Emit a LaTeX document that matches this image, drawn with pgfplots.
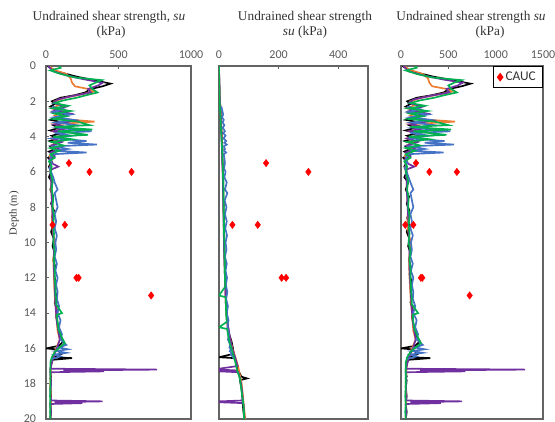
\documentclass[border=0pt]{standalone}
\usepackage{fontspec}
\setmainfont{Liberation Serif}
\newfontfamily\calibri{Carlito}
\usepackage{pgfplots}
\usepackage{pgfplotstable}
\pgfplotsset{compat=1.18}

\definecolor{cK}{RGB}{0,0,0}
\definecolor{cO}{RGB}{237,125,49}
\definecolor{cP}{RGB}{112,48,160}
\definecolor{cB}{RGB}{68,114,196}
\definecolor{cG}{RGB}{0,176,80}
\definecolor{frame}{RGB}{100,100,100}
\definecolor{lbl}{RGB}{89,89,89}

% columns: depth, su panel 1, panel 2, panel 3
\pgfplotstableread{
d a b c
0.0 10 0 15
0.3 70 0 110
0.6 210 1 340
0.8 330 1 540
1.0 445 1 735
1.15 390 2 640
1.3 310 2 510
1.5 270 2 450
1.65 200 2 330
1.8 100 3 165
2.0 40 3 65
2.15 60 4 100
2.3 30 5 50
2.45 110 4 180
2.6 50 6 80
2.75 150 5 250
2.9 70 7 115
3.05 30 6 50
3.2 120 8 200
3.35 50 7 85
3.5 90 9 150
3.65 30 8 50
3.8 110 10 180
3.95 40 9 65
4.1 80 10 130
4.25 25 9 40
4.4 70 11 115
4.55 30 10 50
4.7 60 12 100
4.85 20 11 35
5.0 50 12 80
5.2 15 11 25
5.4 40 12 65
5.7 20 13 35
6.0 35 13 60
6.3 20 14 35
6.6 45 14 75
7.0 30 15 50
7.4 50 14 85
7.8 35 16 60
8.2 55 15 90
8.6 40 17 65
9.0 50 16 85
9.4 35 17 60
9.8 55 18 90
10.2 45 18 75
10.6 60 19 100
11.0 50 19 85
11.4 65 20 105
11.8 55 21 90
12.2 65 22 110
12.6 60 22 100
13.0 70 23 115
13.4 60 24 100
13.8 75 25 125
14.2 70 27 115
14.6 80 29 130
15.0 85 32 140
15.3 100 36 165
15.6 120 42 200
15.85 90 45 150
16.0 0 47 0
16.05 70 47 115
16.3 110 50 180
16.5 60 0 100
16.55 180 52 310
16.65 40 56 70
16.9 35 60 60
17.3 30 66 50
17.6 35 75 60
17.7 30 94 50
17.8 35 70 60
18.2 30 75 50
18.7 35 78 60
19.2 30 80 50
19.6 35 82 60
20.0 30 85 50
}\tK

\pgfplotstableread{
d a b c
0.0 20 0 30
0.2 50 0 85
0.45 140 0 230
0.7 170 1 285
0.95 180 1 300
1.15 200 1 330
1.3 290 2 480
1.45 330 2 540
1.6 250 2 410
1.8 130 3 215
2.0 60 3 100
2.2 90 4 150
2.4 40 4 65
2.6 130 5 215
2.8 60 6 100
3.0 100 6 165
3.15 335 7 570
3.3 60 7 100
3.5 150 8 250
3.7 50 8 85
3.9 120 9 200
4.1 40 9 65
4.3 90 10 150
4.5 35 10 60
4.8 70 11 115
5.1 25 11 40
5.4 40 12 65
5.8 25 12 40
6.2 40 13 65
7.0 35 14 60
8.0 45 15 75
9.0 40 16 65
10.0 60 17 100
11.0 50 18 85
12.0 55 20 90
13.0 60 22 100
14.0 70 24 115
15.0 80 30 130
15.5 95 38 155
16.0 70 45 115
16.5 45 55 75
17.0 35 64 60
18.0 30 76 50
19.0 35 82 55
20.0 30 88 50
}\tO

\pgfplotstableread{
d a b c
0.0 15 0 25
0.3 50 0 80
0.55 150 0 250
0.75 260 1 430
0.95 390 1 650
1.1 360 1 600
1.3 290 2 480
1.5 310 2 510
1.7 180 2 300
1.9 80 3 130
2.1 50 3 85
2.3 140 4 230
2.5 60 4 100
2.7 170 5 280
2.9 70 5 115
3.1 200 6 330
3.3 60 6 100
3.5 160 7 265
3.7 50 7 85
3.9 130 8 215
4.1 40 8 65
4.3 110 9 180
4.5 40 9 65
4.7 90 10 150
4.9 30 10 50
5.1 60 11 100
5.3 25 11 40
5.55 50 11 80
5.7 85 12 140
5.85 40 12 65
6.0 30 12 50
6.5 35 13 60
7.5 40 14 65
8.5 45 15 75
9.5 50 16 85
10.5 55 17 90
11.5 55 19 90
12.5 60 21 100
13.5 65 23 110
14.5 75 28 125
15.5 95 38 155
16.0 75 44 125
16.5 50 54 85
17.0 35 62 60
17.15 30 0 50
17.2 767 0 1310
17.25 120 62 200
17.3 400 0 680
17.35 30 65 50
18.0 35 74 55
18.5 30 78 50
18.95 35 80 55
19.0 390 0 645
19.05 60 0 100
19.1 250 81 420
19.15 30 82 50
19.6 35 84 55
20.0 30 86 50
}\tP

\pgfplotstableread{
d a b c
2.3 40 8 65
2.45 120 10 200
2.6 50 12 80
2.75 170 14 280
2.9 60 10 100
3.05 190 16 310
3.2 70 12 115
3.35 210 18 350
3.5 80 13 130
3.7 315 20 520
3.8 60 14 100
3.95 180 22 300
4.1 50 15 80
4.25 280 24 460
4.35 150 18 250
4.45 350 26 560
4.55 60 16 100
4.7 150 20 250
4.8 60 17 100
4.9 280 24 450
5.0 40 16 65
5.2 30 18 50
5.5 40 20 65
5.8 25 17 40
6.0 35 22 60
6.3 50 18 80
6.6 60 26 100
7.0 80 20 130
7.2 60 28 100
7.6 70 19 115
8.0 80 25 130
8.4 60 20 100
8.8 70 26 115
9.2 60 21 100
9.6 75 27 125
10.0 65 22 105
10.4 70 25 115
10.8 60 20 100
11.2 75 26 125
11.6 65 22 105
12.0 80 27 130
12.4 70 23 115
12.8 80 28 130
13.2 75 24 125
13.6 90 30 150
14.0 80 26 130
14.4 100 32 165
14.8 90 28 150
15.2 110 34 180
15.5 100 30 165
15.8 140 38 230
15.95 90 35 150
16.05 150 40 250
16.15 70 36 115
16.25 140 42 230
16.35 60 40 100
16.45 100 45 165
16.6 40 50 65
}\tB

\pgfplotstableread{
d a b c
0.0 90 0 150
0.1 100 0 165
0.25 30 0 50
0.45 100 0 165
0.65 200 0 330
0.8 385 1 640
0.95 340 1 560
1.1 300 1 500
1.3 320 1 530
1.5 355 2 590
1.65 280 2 460
1.8 210 2 350
1.95 120 2 200
2.1 60 3 100
2.25 150 3 250
2.4 50 3 80
2.55 170 4 280
2.7 60 4 100
2.85 140 5 230
3.0 50 5 80
3.15 220 6 360
3.35 300 6 500
3.45 60 6 100
3.6 320 7 530
3.7 80 7 130
3.9 290 8 480
4.0 50 8 80
4.15 180 9 300
4.3 40 9 65
4.5 120 10 200
4.65 30 10 50
4.8 90 11 150
5.0 30 11 50
5.2 60 12 100
5.4 20 12 35
5.7 40 13 65
6.0 30 13 50
6.5 45 14 75
7.0 40 15 65
7.5 50 15 80
8.0 45 16 75
8.5 55 16 90
9.0 50 17 80
9.5 55 17 90
10.0 50 18 80
10.5 60 18 100
11.0 55 19 90
11.5 60 19 100
12.0 60 20 100
12.5 65 21 105
13.0 65 0 110
13.1 70 22 115
13.5 70 23 115
14.0 110 24 180
14.1 75 24 125
14.5 80 26 130
14.8 85 0 140
14.9 85 27 140
15.0 90 28 150
15.4 110 32 180
15.7 130 36 210
15.9 100 40 165
16.2 60 45 100
16.5 40 50 65
16.8 30 55 50
17.2 30 60 50
17.7 30 70 50
18.2 30 74 50
18.7 28 78 45
19.2 30 82 50
19.6 28 84 45
20.0 30 84 50
}\tG

\pgfplotstableread{
d s
5.5 158
6.0 300
6.0 590
9.0 45
9.0 130
12.0 210
12.0 225
13.0 725
}\tCAUC

\pgfplotsset{
  panel/.style={
    scale only axis, height=264.75pt, anchor=north west,
    ymin=0, ymax=20, y dir=reverse, xmin=0,
    axis line style={frame, line width=1.1pt},
    tick align=inside, major tick length=2.5pt,
    tick style={frame, line width=0.8pt},
    xtick pos=upper, xticklabel pos=upper,
    ticklabel style={font=\calibri\fontsize{9}{10}\selectfont, text=lbl},
    /pgf/number format/assume math mode=true,
    /pgf/number format/1000 sep={},
    xticklabel style={yshift=2pt},
  },
  su/.style={line width=1.25pt, mark=none},
  cauc/.style={only marks, mark=diamond*, mark size=2.7pt, red, fill=red},
}

\begin{document}
\begin{tikzpicture}
\begin{axis}[panel, at={(34.5pt,-49.5pt)}, width=108.75pt, xmax=1000,
    xtick={0,500,1000}, ytick={0,2,...,20}, ytick pos=left, yticklabel pos=left,
    yticklabel style={xshift=-4pt}]
  \addplot[su, cK] table[x=a, y=d] {\tK};
  \addplot[su, cO] table[x=a, y=d] {\tO};
  \addplot[su, cP] table[x=a, y=d] {\tP};
  \addplot[su, cB] table[x=a, y=d] {\tB};
  \addplot[su, cG] table[x=a, y=d] {\tG};
  \addplot[cauc] table[x=s, y=d] {\tCAUC};
\end{axis}

\begin{axis}[panel, at={(164.25pt,-49.5pt)}, width=111.75pt, xmax=500,
    xtick={0,200,400}, ytick=\empty]
  \addplot[su, cK] table[x=b, y=d] {\tK};
  \addplot[su, cO] table[x=b, y=d] {\tO};
  \addplot[su, cP] table[x=b, y=d] {\tP};
  \addplot[su, cB] table[x=b, y=d] {\tB};
  \addplot[su, cG] table[x=b, y=d] {\tG};
  \addplot[cauc] table[x=s, y=d] {\tCAUC};
\end{axis}

\begin{axis}[panel, at={(300.75pt,-49.5pt)}, width=106.5pt, xmax=1500,
    xtick={0,500,1000,1500}, ytick=\empty,
    legend style={at={(1,1)}, anchor=north east, draw=black, line width=0.8pt,
      font=\calibri\fontsize{10}{12}\selectfont, text=black!80,
      inner xsep=3pt, inner ysep=2pt, cells={anchor=west}}]
  \addplot[su, cK, forget plot] table[x=c, y=d] {\tK};
  \addplot[su, cO, forget plot] table[x=c, y=d] {\tO};
  \addplot[su, cP, forget plot] table[x=c, y=d] {\tP};
  \addplot[su, cB, forget plot] table[x=c, y=d] {\tB};
  \addplot[su, cG, forget plot] table[x=c, y=d] {\tG};
  \addplot[cauc] table[x=s, y=d] {\tCAUC};
  \addlegendentry{CAUC}
\end{axis}

\begin{scope}[font=\fontsize{10}{12}\selectfont, text=black!80]
  \node at (81.75pt,-12.75pt) {Undrained shear strength, \textit{su}};
  \node at (83.25pt,-24pt) {(kPa)};
  \node at (228.75pt,-12.75pt) {Undrained shear strength};
  \node at (228.75pt,-24pt) {\textit{su} (kPa)};
  \node at (353.25pt,-12.75pt) {Undrained shear strength \textit{su}};
  \node at (367.5pt,-24pt) {(kPa)};
  \node[rotate=90, font=\fontsize{8}{10}\selectfont] at (10.5pt,-160pt) {Depth (m)};
\end{scope}

\pgfresetboundingbox
\path (0,0) rectangle (416.25pt,-315.75pt);
\end{tikzpicture}
\end{document}
